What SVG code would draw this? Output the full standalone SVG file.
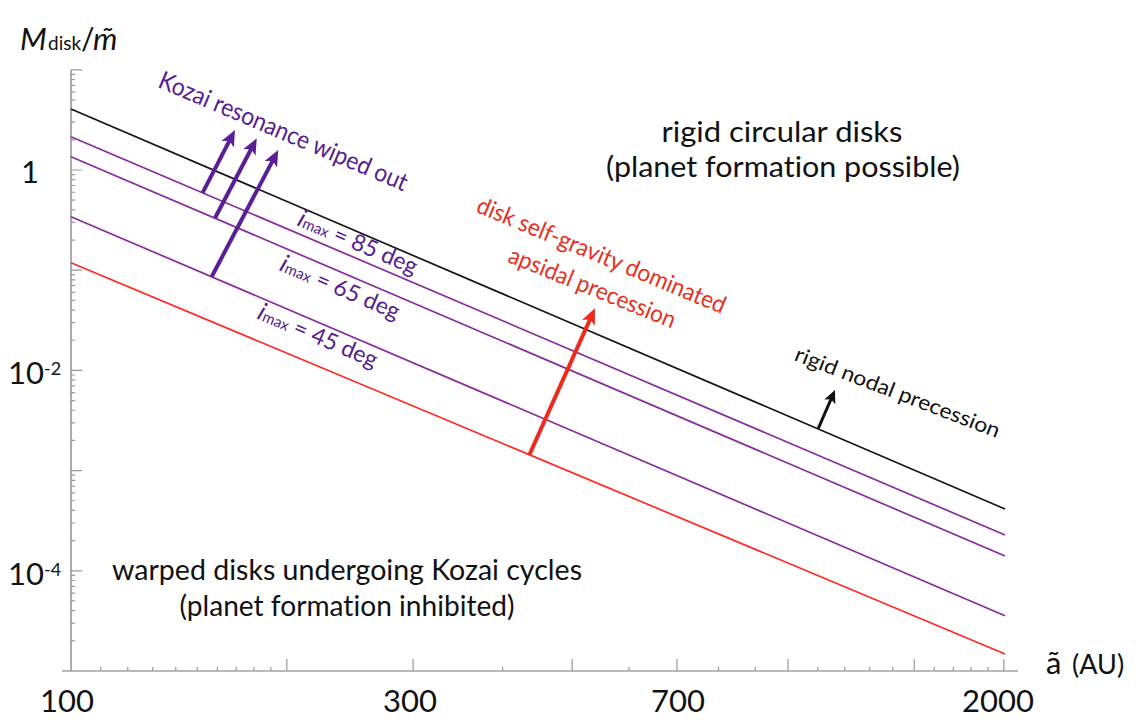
<svg xmlns="http://www.w3.org/2000/svg" width="1143" height="723" viewBox="0 0 1143 723">
<style>
text{font-family:Lato,"Open Sans","DejaVu Sans",sans-serif;font-variant-ligatures:none;font-feature-settings:"liga" 0,"clig" 0}
.ax{stroke:#777;stroke-width:1.2;fill:none}
.tk{stroke:#999;stroke-width:1.2;fill:none}
.crv{fill:none;stroke-width:1.7}
.blk{stroke:#151515}
.pur{stroke:#8a2b9e}
.red{stroke:#ff2a22}
.apur{stroke:#5a1f96;stroke-width:4;fill:none}
.ared{stroke:#ee2a1c;stroke-width:4;fill:none}
.ablk{stroke:#111;stroke-width:3;fill:none}
.big{font-size:28px;fill:#111}
.num{font-size:31px;fill:#111}
.ptxt{fill:#55208f}
.rtxt{fill:#e8301e}
</style>
<defs>
<marker id="hP" markerUnits="userSpaceOnUse" markerWidth="18" markerHeight="16" viewBox="0 -8 18 16" refX="6" refY="0" orient="auto"><path d="M0,-7 L16,0 L0,7 L4,0 Z" fill="#5a1f96"/></marker>
<marker id="hR" markerUnits="userSpaceOnUse" markerWidth="18" markerHeight="16" viewBox="0 -8 18 16" refX="6" refY="0" orient="auto"><path d="M0,-7 L16,0 L0,7 L4,0 Z" fill="#ee2a1c"/></marker>
<marker id="hB" markerUnits="userSpaceOnUse" markerWidth="15" markerHeight="14" viewBox="0 -7 15 14" refX="5" refY="0" orient="auto"><path d="M0,-6 L13,0 L0,6 L3,0 Z" fill="#111"/></marker>
</defs>
<rect width="1143" height="723" fill="#fff"/>

<g id="axes">
<path class="ax" d="M71,70 V671 M62,671 H1018"/>
<path class="tk" d="M71,69.8 H82 M71,170 H82 M71,270.2 H82 M71,370.4 H82 M71,470.6 H82 M71,570.8 H82
M71,139.84 h4 M71,122.19 h4 M71,109.67 h4 M71,99.96 h4 M71,92.03 h4 M71,85.32 h4 M71,79.51 h4 M71,74.39 h4
M71,240.04 h4 M71,222.39 h4 M71,209.87 h4 M71,200.16 h4 M71,192.23 h4 M71,185.52 h4 M71,179.71 h4 M71,174.59 h4
M71,340.24 h4 M71,322.59 h4 M71,310.07 h4 M71,300.36 h4 M71,292.43 h4 M71,285.72 h4 M71,279.91 h4 M71,274.79 h4
M71,440.44 h4 M71,422.79 h4 M71,410.27 h4 M71,400.56 h4 M71,392.63 h4 M71,385.92 h4 M71,380.11 h4 M71,374.99 h4
M71,540.64 h4 M71,522.99 h4 M71,510.47 h4 M71,500.76 h4 M71,492.83 h4 M71,486.12 h4 M71,480.31 h4 M71,475.19 h4
M71,640.84 h4 M71,623.19 h4 M71,610.67 h4 M71,600.96 h4 M71,593.03 h4 M71,586.32 h4 M71,580.51 h4 M71,575.39 h4
M286.84,671 v-12 M413.1,671 v-12 M572.16,671 v-12 M676.94,671 v-12 M788,671 v-12 M914.26,671 v-12 M1003.84,671 v-12
M100.68,671 v-4 M127.77,671 v-4 M152.7,671 v-4 M175.77,671 v-4 M197.26,671 v-4 M217.35,671 v-4 M236.23,671 v-4 M254.03,671 v-4 M270.86,671 v-4
M502.68,671 v-4 M628.93,671 v-4 M718.52,671 v-4 M755.19,671 v-4 M817.68,671 v-4 M844.77,671 v-4 M869.7,671 v-4 M892.77,671 v-4
M934.35,671 v-4 M953.23,671 v-4 M971.03,671 v-4 M987.86,671 v-4"/>
</g>

<g id="axis-labels">
<text x="20" y="50" fill="#111"><tspan font-style="italic" font-size="31">M</tspan><tspan x="48" font-size="19">disk</tspan><tspan x="81" font-size="30">/</tspan><tspan x="93" font-style="italic" font-size="31">m&#x303;</tspan></text>
<text class="num" x="30" y="183" text-anchor="middle">1</text>
<text class="num" x="8" y="384">10<tspan font-size="18" dy="-9">-2</tspan></text>
<text class="num" x="8" y="585">10<tspan font-size="18" dy="-9">-4</tspan></text>
<text class="num" x="67" y="712" text-anchor="middle">100</text>
<text class="num" x="410" y="712" text-anchor="middle">300</text>
<text class="num" x="678" y="712" text-anchor="middle">700</text>
<text class="num" x="998" y="712" text-anchor="middle">2000</text>
<text x="1046" y="674" fill="#111"><tspan font-size="31">&#xe3;</tspan><tspan x="1072" font-size="27">(AU)</tspan></text>
</g>

<g id="curves">
<path class="crv blk" d="M71,109 L1005,509"/>
<path class="crv pur" d="M71,136.7 L1005,535"/>
<path class="crv pur" d="M71,156.7 L1005,556"/>
<path class="crv pur" d="M71,216.7 L1005,615.7"/>
<path class="crv red" d="M71,262.7 L1005,654"/>
</g>

<g id="connectors">
<path class="apur" d="M202.7,192.7 L230.4,138.9" marker-end="url(#hP)"/>
<path class="apur" d="M215,218 L252.1,147.2" marker-end="url(#hP)"/>
<path class="apur" d="M211.7,276.7 L273.6,158.9" marker-end="url(#hP)"/>
<path class="ared" d="M529.3,455 L590.9,317.4" marker-end="url(#hR)"/>
<path class="ablk" d="M818.3,428.3 L831.8,397.3" marker-end="url(#hB)"/>
</g>

<g id="region-upper">
<text class="big" x="782" y="142" text-anchor="middle" textLength="241" lengthAdjust="spacingAndGlyphs">rigid circular disks</text>
<text class="big" x="783" y="177" text-anchor="middle" textLength="354" lengthAdjust="spacingAndGlyphs">(planet formation possible)</text>
</g>

<g id="region-lower">
<text class="big" x="347" y="580" text-anchor="middle" textLength="470" lengthAdjust="spacingAndGlyphs">warped disks undergoing Kozai cycles</text>
<text class="big" x="347" y="616" text-anchor="middle" textLength="335" lengthAdjust="spacingAndGlyphs">(planet formation inhibited)</text>
</g>

<g id="label-kozai">
<text class="ptxt" font-size="25" transform="translate(156.7,86.7) rotate(23)" textLength="268" lengthAdjust="spacingAndGlyphs">Kozai resonance wiped out</text>
</g>
<g id="label-imax85">
<text class="ptxt" font-size="23" transform="translate(296,225) rotate(23)"><tspan font-style="italic" font-size="25">i</tspan><tspan font-size="15">max</tspan> = 85 deg</text>
</g>
<g id="label-imax65">
<text class="ptxt" font-size="23" transform="translate(278.3,270) rotate(23)"><tspan font-style="italic" font-size="25">i</tspan><tspan font-size="15">max</tspan> = 65 deg</text>
</g>
<g id="label-imax45">
<text class="ptxt" font-size="23" transform="translate(256,318.3) rotate(23)"><tspan font-style="italic" font-size="25">i</tspan><tspan font-size="15">max</tspan> = 45 deg</text>
</g>
<g id="label-selfgravity">
<text class="rtxt" font-size="24" transform="translate(475,211.7) rotate(22.5)" textLength="267" lengthAdjust="spacingAndGlyphs">disk self-gravity dominated</text>
<text class="rtxt" font-size="24" transform="translate(506.7,261.7) rotate(22)" textLength="178" lengthAdjust="spacingAndGlyphs">apsidal precession</text>
</g>
<g id="label-nodal">
<text font-size="21" fill="#111" transform="translate(793.3,360) rotate(21)" textLength="218" lengthAdjust="spacingAndGlyphs">rigid nodal precession</text>
</g>
</svg>
